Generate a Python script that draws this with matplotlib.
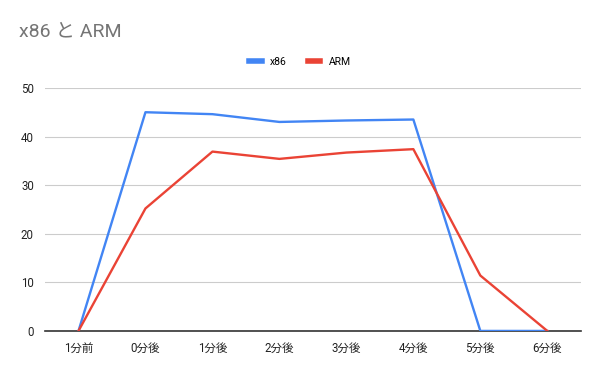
import matplotlib.pyplot as plt
from matplotlib.lines import Line2D

plt.rcParams['font.family'] = ['Roboto', 'Noto Sans CJK JP', 'DejaVu Sans']

categories = ['1分前', '0分後', '1分後', '2分後', '3分後', '4分後', '5分後', '6分後']
x86 = [0, 45.0, 44.6, 43.0, 43.3, 43.5, 0, 0]
arm = [0, 25.2, 36.9, 35.4, 36.7, 37.4, 11.4, 0]

fig = plt.figure(figsize=(6, 3.71), dpi=100)
ax = fig.add_axes([0.075, 0.108, 0.893, 0.655])

xs = range(len(categories))
ax.plot(xs, x86, color='#4285F4', lw=1.7, label='x86', zorder=3)
ax.plot(xs, arm, color='#EA4335', lw=1.7, label='ARM', zorder=3)

ax.set_xlim(-0.5, len(categories) - 0.5)
ax.set_ylim(0, 50)
ax.set_yticks(range(0, 51, 10))
ax.set_xticks(list(xs))
ax.set_xticklabels(categories)
ax.grid(axis='y', color='#cccccc', lw=0.8)
ax.set_axisbelow(True)
for s in ['top', 'right', 'left']:
    ax.spines[s].set_visible(False)
ax.spines['bottom'].set_color('#333333')
ax.spines['bottom'].set_linewidth(1.2)
ax.tick_params(length=0, labelsize=8.3, colors='#222222', pad=8)

fig.text(0.032, 0.915, 'x86 と ARM', fontsize=14, color='#757575', va='center')

handles = [Line2D([], [], color='#4285F4', lw=4), Line2D([], [], color='#EA4335', lw=4)]
fig.legend(handles, ['x86', 'ARM'], loc='center', bbox_to_anchor=(0.5, 0.833),
           ncol=2, frameon=False, fontsize=7.5, handlelength=1.2, columnspacing=2,
           handletextpad=0.8)

fig.savefig('out.png', dpi=100)
